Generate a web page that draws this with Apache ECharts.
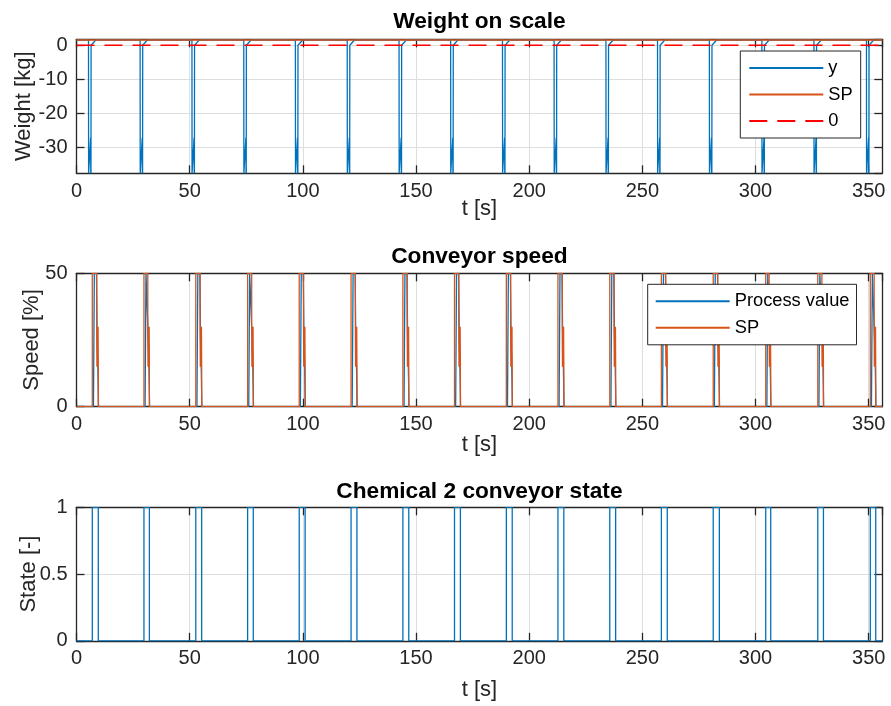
<!DOCTYPE html>
<html>
<head>
<meta charset="utf-8">
<title>Chemical 2 dosing</title>
<script src="https://cdn.jsdelivr.net/npm/echarts@6/dist/echarts.min.js"></script>
<style>
  html, body { margin: 0; padding: 0; background: #fff; }
  #chart { width: 891px; height: 706px; }
</style>
</head>
<body>
<div id="chart"></div>
<script>
// Cycle event times [s]
const dropTimes    = [5.3, 28.1, 51.0, 73.9, 96.7, 119.6, 142.5, 165.3, 188.2, 211.0, 233.9, 256.7, 279.6, 302.8, 325.8, 349.0];
const conveyorOn   = [6.98, 29.8, 52.7, 75.6, 98.4, 121.3, 144.2, 167.0, 189.9, 212.7, 235.6, 258.4, 281.3, 304.5, 327.5, 350.7];
const conveyorOff  = [9.63, 32.2, 55.3, 78.1, 101.0, 123.9, 146.8, 169.6, 192.5, 215.3, 238.2, 261.0, 284.0, 306.7, 330.0, 353.1];

// Levels
const weightSP = 1.55;        // kg
const weightLow = -37.5;      // kg, scale reading while the bucket is lifted
const weightBounce = -27;     // kg
const speedFull = 50;         // %
const speedTrimHigh = 30;     // %
const speedTrimLow = 15;      // %
const tEnd = 356;

// Weight on scale
const weightY = [[0, weightSP]];
dropTimes.forEach(function (d) {
  weightY.push([d, weightSP], [d + 0.05, weightLow], [d + 0.9, weightLow],
    [d + 0.95, weightBounce], [d + 1.0, weightLow], [d + 1.05, weightBounce],
    [d + 1.1, weightLow], [d + 1.15, 0], [d + 1.3, 0], [d + 3.2, weightSP]);
});
weightY.push([tEnd, weightSP]);
const weightSet = [[0, weightSP], [tEnd, weightSP]];
const zeroLine = [[0, 0], [tEnd, 0]];

// Conveyor speed
const speedSP = [[0, 0]];
const speedPV = [[0, 0]];
conveyorOn.forEach(function (on, i) {
  const off = conveyorOff[i];
  speedSP.push([on, 0], [on, speedFull], [off - 0.7, speedFull], [off - 0.7, speedTrimHigh],
    [off - 0.6, speedTrimLow], [off - 0.5, speedTrimHigh], [off - 0.4, speedTrimLow],
    [off - 0.3, speedTrimHigh], [off - 0.2, speedTrimLow], [off - 0.1, speedTrimHigh],
    [off, speedTrimLow], [off, 0]);
  speedPV.push([on + 0.5, 0], [on + 0.9, speedFull], [off - 0.8, speedFull],
    [off - 0.5, 25], [off - 0.2, speedTrimLow], [off + 0.1, 0]);
});
speedSP.push([tEnd, 0]);
speedPV.push([tEnd, 0]);

// Conveyor state
const state = [[0, 0]];
conveyorOn.forEach(function (on, i) {
  const off = conveyorOff[i];
  state.push([on, 0], [on, 1], [off, 1], [off, 0]);
});
state.push([tEnd, 0]);

const BLUE = '#0072BD', ORANGE = '#D95319', RED = '#FF0000';
const AX = '#262626', GRID = '#dedede';
const FONT = '"Liberation Sans", Arial, Helvetica, sans-serif';

const plotLeft = 76.5, plotWidth = 805.8;
const grids = [
  { left: plotLeft, top: 39.3, width: plotWidth, height: 134 },
  { left: plotLeft, top: 273.3, width: plotWidth, height: 133.4 },
  { left: plotLeft, top: 507.3, width: plotWidth, height: 133.5 }
];

function xBottom(gi, nameGap) {
  return {
    type: 'value', gridIndex: gi, min: 0, max: tEnd, interval: 50,
    name: 't [s]', nameLocation: 'middle', nameGap: nameGap, nameMoveOverlap: false,
    nameTextStyle: { fontSize: 22, color: AX, fontFamily: FONT },
    axisLine: { show: true, onZero: false, lineStyle: { color: AX, width: 1.3 } },
    axisTick: { show: true, inside: true, length: 8, lineStyle: { color: AX, width: 1.3 } },
    axisLabel: { fontSize: 20, color: AX, margin: 8, fontFamily: FONT, showMaxLabel: false },
    splitLine: { show: true, lineStyle: { color: GRID, width: 1 } }
  };
}
function xTop(gi) {
  return {
    type: 'value', gridIndex: gi, position: 'top', min: 0, max: tEnd, interval: 50,
    axisLine: { show: true, onZero: false, lineStyle: { color: AX, width: 1.3 } },
    axisTick: { show: true, inside: true, length: 8, lineStyle: { color: AX, width: 1.3 } },
    axisLabel: { show: false }, splitLine: { show: false }
  };
}
function yAxes(gi, extra, name, nameGap) {
  const left = Object.assign({
    type: 'value', gridIndex: gi, position: 'left',
    name: name, nameLocation: 'middle', nameGap: nameGap, nameMoveOverlap: false,
    nameTextStyle: { fontSize: 22, color: AX, fontFamily: FONT },
    axisLine: { show: true, onZero: false, lineStyle: { color: AX, width: 1.3 } },
    axisTick: { show: true, inside: true, length: 8, lineStyle: { color: AX, width: 1.3 } },
    axisLabel: { fontSize: 20, color: AX, margin: 9, fontFamily: FONT },
    splitLine: { show: true, lineStyle: { color: GRID, width: 1 } }
  }, extra);
  const right = Object.assign({
    type: 'value', gridIndex: gi, position: 'right',
    axisLine: { show: true, onZero: false, lineStyle: { color: AX, width: 1.3 } },
    axisTick: { show: true, inside: true, length: 8, lineStyle: { color: AX, width: 1.3 } },
    axisLabel: { show: false }, splitLine: { show: false }
  }, extra);
  return [left, right];
}

const yTop = yAxes(0, { min: weightLow, max: 1.75, minInterval: 10, maxInterval: 10 }, 'Weight [kg]', 41.5);
yTop[0].axisLabel.showMinLabel = false;
yTop[0].axisLabel.showMaxLabel = false;
const yMid = yAxes(1, { min: 0, max: 50, interval: 50 }, 'Speed [%]', 34);
const yBot = yAxes(2, { min: 0, max: 1, interval: 0.5 }, 'State [-]', 37);

function line(name, xi, yi, data, color, extra) {
  return Object.assign({
    name: name, type: 'line', xAxisIndex: xi, yAxisIndex: yi, data: data,
    symbol: 'none', showSymbol: false, animation: false, clip: true, z: 3,
    lineStyle: { color: color, width: 1.3 }, itemStyle: { color: color }
  }, extra || {});
}

const titleStyle = { fontSize: 22.7, fontWeight: 'bold', color: '#000', fontFamily: FONT };
const legendBase = {
  orient: 'vertical', itemWidth: 74, itemHeight: 10, itemGap: 6.5,
  backgroundColor: '#fff', borderColor: AX, borderWidth: 1, borderRadius: 0,
  itemStyle: { opacity: 0 },
  textStyle: { fontSize: 18.3, lineHeight: 20, color: '#000', fontFamily: FONT },
  selectedMode: false, z: 10
};

const option = {
  animation: false,
  backgroundColor: '#fff',
  textStyle: { fontFamily: FONT },
  title: [
    { text: 'Weight on scale', left: 474.4, top: 17, textAlign: 'center', textVerticalAlign: 'middle', textStyle: titleStyle },
    { text: 'Conveyor speed', left: 474.4, top: 252, textAlign: 'center', textVerticalAlign: 'middle', textStyle: titleStyle },
    { text: 'Chemical 2 conveyor state', left: 474.4, top: 487, textAlign: 'center', textVerticalAlign: 'middle', textStyle: titleStyle }
  ],
  legend: [
    Object.assign({}, legendBase, { data: ['y', 'SP', '0'], left: 740.3, top: 51, padding: [7, 8, 7, 8] }),
    Object.assign({}, legendBase, { data: ['Process value', 'SP'], left: 647.7, top: 284.3, padding: [7, 7, 7, 7] })
  ],
  grid: grids,
  xAxis: [xBottom(0, 24.5), xTop(0), xBottom(1, 27), xTop(1), xBottom(2, 38.5), xTop(2)],
  yAxis: [yTop[0], yTop[1], yMid[0], yMid[1], yBot[0], yBot[1]],
  series: [
    line('y', 0, 0, weightY, BLUE),
    line('SP', 0, 0, weightSet, ORANGE, { lineStyle: { color: ORANGE, width: 1.6 } }),
    line('0', 0, 0, zeroLine, RED, { lineStyle: { color: RED, width: 1.3, type: [18, 10] } }),
    line('Process value', 2, 2, speedPV, BLUE),
    line('SP', 2, 2, speedSP, ORANGE),
    line('State', 4, 4, state, BLUE)
  ]
};

const chart = echarts.init(document.getElementById('chart'), null, { renderer: 'canvas' });
chart.setOption(option);
</script>
</body>
</html>
